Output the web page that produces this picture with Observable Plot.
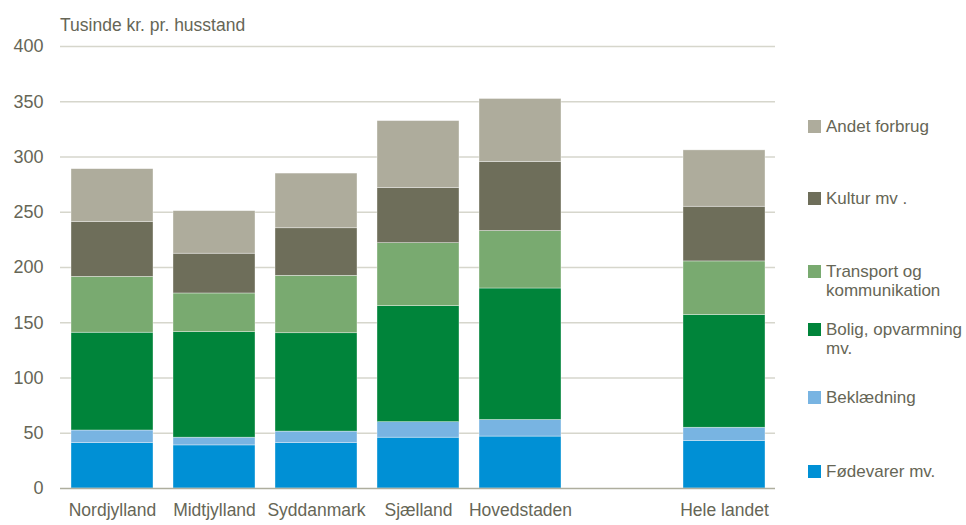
<!DOCTYPE html>
<html>
<head>
<meta charset="utf-8">
<script src="https://cdn.jsdelivr.net/npm/d3@7"></script>
<script src="https://cdn.jsdelivr.net/npm/@observablehq/plot@0.6"></script>
<style>
  html, body { margin: 0; padding: 0; background: #fff; }
  #wrap { position: relative; width: 966px; height: 525px; font-family: "Liberation Sans", Arial, sans-serif; color: #666656; }
  #title { position: absolute; left: 60px; top: 15px; font-size: 17.5px; color: #666656; }
  #legend { position: absolute; left: 808px; top: 0; font-size: 17px; }
  .li { position: absolute; left: 0; width: 158px; line-height: 19px; }
  .sw { position: absolute; left: 0; top: 3px; width: 13px; height: 13px; }
  .lt { position: absolute; left: 18px; top: 0; white-space: nowrap; }
</style>
</head>
<body>
<div id="wrap">
  <div id="chart"></div>
  <div id="title">Tusinde kr. pr. husstand</div>
  <div id="legend"></div>
</div>
<script>
const regions = ["Nordjylland", "Midtjylland", "Syddanmark", "Sjælland", "Hovedstaden", " ", "Hele landet"];
const categories = ["Fødevarer mv.", "Beklædning", "Bolig, opvarmning mv.", "Transport og kommunikation", "Kultur mv .", "Andet forbrug"];
const legendLabels = ["Fødevarer mv.", "Beklædning", "Bolig, opvarmning<br>mv.", "Transport og<br>kommunikation", "Kultur mv .", "Andet forbrug"];
const colors = ["#0090d5", "#78b4e2", "#00843a", "#79aa70", "#6e6e5a", "#aeac9c"];
const yTicks = [0, 50, 100, 150, 200, 250, 300, 350, 400];

// values per region, in category order (bottom to top)
const foedevarer = [41, 39, 41, 46, 47, null, 43];
const beklaedning = [11.5, 7, 10.5, 14, 15, null, 12];
const bolig = [88.5, 95.5, 89, 105, 119, null, 102];
const transport = [50.5, 35, 52, 57, 52, null, 48.5];
const kultur = [49.5, 36, 43, 50, 62.5, null, 49.5];
const andet = [48, 38.5, 49.5, 60.5, 57, null, 51];
const series = [foedevarer, beklaedning, bolig, transport, kultur, andet];

const data = [];
regions.forEach((r, i) => {
  series.forEach((s, j) => {
    if (s[i] != null) data.push({region: r, category: categories[j], value: s[i]});
  });
});

const chart = Plot.plot({
  width: 966,
  height: 525,
  marginLeft: 60,
  marginRight: 191,
  marginTop: 46,
  marginBottom: 37,
  style: {fontFamily: '"Liberation Sans", Arial, sans-serif', fontSize: "17.5px", color: "#666656", background: "#fff"},
  x: {domain: regions, paddingInner: 0.2, paddingOuter: 0.1, label: null},
  y: {domain: [0, 400], label: null},
  color: {domain: categories, range: colors},
  marks: [
    Plot.ruleY(yTicks.filter(d => d > 0), {stroke: "#d6d6cc", strokeWidth: 1.3}),
    Plot.barY(data, {x: "region", y: "value", fill: "category", order: categories, stroke: "#ffffff", strokeWidth: 0.6, strokeOpacity: 0.6}),
    Plot.ruleY([0], {stroke: "#aeae9e", strokeWidth: 1.5}),
    Plot.axisY({ticks: yTicks, tickSize: 0, tickPadding: 17, label: null, fontSize: 18}),
    Plot.axisX({tickSize: 0, tickPadding: 15, label: null, fontSize: 17.5, tickFormat: d => d.trim()})
  ]
});
document.getElementById("chart").appendChild(chart);

// legend (top to bottom: reverse stacking order)
const legendTops = [462, 388, 320, 262, 189, 117];
const legend = document.getElementById("legend");
categories.forEach((c, j) => {
  const li = document.createElement("div");
  li.className = "li";
  li.style.top = legendTops[j] + "px";
  li.innerHTML = `<div class="sw" style="background:${colors[j]}"></div><div class="lt">${legendLabels[j]}</div>`;
  legend.appendChild(li);
});
</script>
</body>
</html>
